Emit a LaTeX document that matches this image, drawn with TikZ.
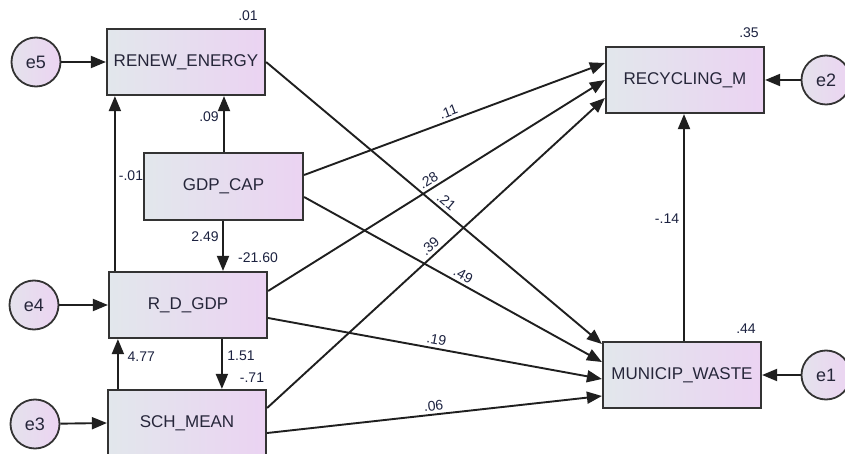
\documentclass[tikz,border=0pt]{standalone}
\usepackage{fontspec}
\setmainfont{Liberation Sans}
\usetikzlibrary{arrows.meta,calc}
\definecolor{boxL}{HTML}{E2E7EC}
\definecolor{boxR}{HTML}{EBD3F2}
\definecolor{cirL}{HTML}{E4E2EC}
\definecolor{cirR}{HTML}{ECD4F2}
\definecolor{edge}{HTML}{333333}
\definecolor{txt}{HTML}{26263A}
\definecolor{lab}{HTML}{1C2240}
\begin{document}
\begin{tikzpicture}[x=1pt,y=-1pt,
  varbox/.style={draw=edge,line width=2.2pt,left color=boxL,right color=boxR,
    minimum width=158pt,minimum height=66pt,inner sep=0pt,text=txt,
    font=\fontsize{17}{20}\selectfont},
  errc/.style={draw=edge,line width=1.8pt,circle,left color=cirL,right color=cirR,
    minimum size=49pt,inner sep=0pt,text=txt,font=\fontsize{18}{21}\selectfont},
  conn/.style={draw=black!88,line width=1.9pt,-{Triangle[length=15pt,width=12pt]}},
  lbl/.style={text=lab,font=\fontsize{14}{16}\selectfont,inner sep=1.5pt},
  plbl/.style={lbl,sloped,above,inner sep=3pt}]
\useasboundingbox (0,0) rectangle (845,454);
\fill[white] (0,0) rectangle (845,454);

% boxes
\node[varbox] (renew) at (186,62) {RENEW\_ENERGY};
\node[varbox,minimum width=159pt,minimum height=67pt] (gdp) at (223.5,186.5) {GDP\_CAP};
\node[varbox] (rd) at (188,305) {R\_D\_GDP};
\node[varbox] (sch) at (187,423) {SCH\_MEAN};
\node[varbox] (rec) at (685,80) {RECYCLING\_M};
\node[varbox] (mun) at (682,375) {MUNICIP\_WASTE};

% error circles
\node[errc] (e5) at (36,62) {e5};
\node[errc] (e4) at (34,305) {e4};
\node[errc] (e3) at (35,424) {e3};
\node[errc] (e2) at (826,80) {e2};
\node[errc] (e1) at (826,375) {e1};

% squared multiple correlations / intercepts
\node[lbl] (r1) at (248,16) {.01};
\node[lbl] (r2) at (258,258) {-21.60};
\node[lbl] (r3) at (252,378) {-.71};
\node[lbl] (r4) at (749,33) {.35};
\node[lbl] (r5) at (746,329) {.44};

% error arrows
\draw[conn] (e5) -- (renew.west);
\draw[conn] (e4) -- (rd.west);
\draw[conn] (e3) -- (sch.west);
\draw[conn] (e2) -- (rec.east);
\draw[conn] (e1) -- (mun.east);

% vertical paths
\coordinate (g1) at ($(gdp.north)+(0.5,0)$);
\draw[conn] (g1) -- (g1 |- renew.south);
\node[lbl] (l09) at (209,117) {.09};

\coordinate (rd1) at ($(rd.north west)+(7,0)$);
\draw[conn] (rd1) -- (rd1 |- renew.south);
\node[lbl] (l01) at (131,176) {-.01};

\coordinate (g2) at ($(gdp.south)+(-0.5,0)$);
\draw[conn] (g2) -- (g2 |- rd.north);
\node[lbl] (l249) at (205,237) {2.49};

\coordinate (s1) at ($(sch.north west)+(11,0)$);
\draw[conn] (s1) -- (s1 |- rd.south);
\node[lbl,anchor=west] (l477) at (126,357) {4.77};

\coordinate (rd2) at ($(rd.south west)+(114,0)$);
\draw[conn] (rd2) -- (rd2 |- sch.north);
\node[lbl] (l151) at (241,356) {1.51};

\coordinate (m1) at ($(mun.north)+(2,0)$);
\draw[conn] (m1) -- (m1 |- rec.south);
\node[lbl] (l14) at (667,219) {-.14};

% diagonal paths to RECYCLING_M
\draw[conn] ($(gdp.east)+(0,-11.5)$) -- node[plbl,pos=0.49] {.11} ($(rec.west)+(0,-17)$);
\draw[conn] ($(rd.east)+(0,-14)$) -- node[plbl,pos=0.49] {.28} ($(rec.west)+(0,0)$);
\draw[conn] ($(sch.east)+(0,-15)$) -- node[plbl,pos=0.5] {.39} ($(rec.west)+(0,18)$);

% diagonal paths to MUNICIP_WASTE
\draw[conn] (renew.east) -- node[plbl,pos=0.52] {.21} ($(mun.west)+(0,-31)$);
\draw[conn] ($(gdp.east)+(0,10.5)$) -- node[plbl,pos=0.52] {.49} ($(mun.west)+(0,-13)$);
\draw[conn] ($(rd.east)+(0,13)$) -- node[plbl,pos=0.5] {.19} ($(mun.west)+(0,4)$);
\draw[conn] ($(sch.east)+(0,10)$) -- node[plbl,pos=0.5] {.06} ($(mun.west)+(0,21)$);
\end{tikzpicture}
\end{document}
